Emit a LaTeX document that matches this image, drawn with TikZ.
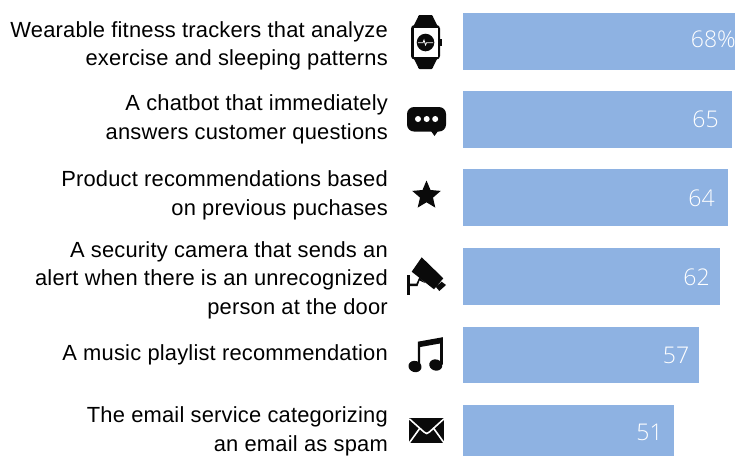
\documentclass[tikz,border=0pt]{standalone}
\usepackage{fontspec}
\setmainfont{Liberation Sans}
\newfontfamily\labelfont[LetterSpace=0.9]{Liberation Sans}
\newfontfamily\valuefont[UprightFont=* Light]{Open Sans}
\definecolor{barblue}{HTML}{8EB2E2}
\definecolor{inkblack}{HTML}{0A0A0A}
\tikzset{
  rowlabel/.style={anchor=east,align=right,inner sep=0pt,text=black,font=\labelfont\fontsize{21.9}{28.5}\selectfont},
  barbox/.style={fill=barblue,draw=none,anchor=north west,inner sep=0pt,minimum height=57pt},
  barvalue/.style={anchor=center,inner sep=0pt,text=white,font=\valuefont\fontsize{23}{23}\selectfont},
  icon/.style={fill=inkblack,draw=none}
}
\begin{document}
\begin{tikzpicture}[x=1pt,y=-1pt]
\useasboundingbox (0,0) rectangle (735,456);
% bars
\node[barbox,minimum width=272pt] (b1) at (463,13) {};
\node[barbox,minimum width=269pt] (b2) at (463,91) {};
\node[barbox,minimum width=265pt] (b3) at (463,169) {};
\node[barbox,minimum width=257pt] (b4) at (463,248) {};
\node[barbox,minimum width=236pt,minimum height=56.5pt] (b5) at (463,326.5) {};
\node[barbox,minimum width=211pt,minimum height=51pt] (b6) at (463,405) {};
% values
\node[barvalue] (v1) at (713.3,39.5) {68\%};
\node[barvalue] (v2) at (705.5,119.5) {65};
\node[barvalue] (v3) at (701.5,198) {64};
\node[barvalue] (v4) at (696.5,277) {62};
\node[barvalue] (v5) at (676,355.5) {57};
\node[barvalue] (v6) at (649.5,432) {51};
% labels
\node[rowlabel] (l1) at (388,46) {Wearable fitness trackers that analyze\\exercise and sleeping patterns};
\node[rowlabel] (l2) at (388,119.5) {A chatbot that immediately\\answers customer questions};
\node[rowlabel] (l3) at (388,195.5) {Product recommendations based\\on previous puchases};
\node[rowlabel] (l4) at (388,280) {A security camera that sends an\\alert when there is an unrecognized\\person at the door};
\node[rowlabel] (l5) at (388,354.5) {A music playlist recommendation};
\node[rowlabel] (l6) at (388,431.5) {The email service categorizing\\an email as spam};
% watch
\fill[icon] (413,27) -- (418,17) [rounded corners=1pt] -- (418.5,15) -- (432.5,15) -- (433,17) [sharp corners] -- (438,27) -- cycle;
\fill[icon] (413,57) -- (418,67) [rounded corners=1pt] -- (418.5,69) -- (432.5,69) -- (433,67) [sharp corners] -- (438,57) -- cycle;
\fill[icon,rounded corners=3.5pt] (411,25) rectangle (440,59.5);
\fill[white] (413.5,28) rectangle (437.5,56.5);
\fill[icon] (440,39) rectangle (442,46);
\fill[icon] (425.5,42.5) circle (8.8);
\draw[white,line width=0.8pt] (418,42.8) -- (423,42.8) -- (424,40) -- (425.5,45) -- (426.5,42.8) -- (433,42.8);
% chat
\fill[icon,rounded corners=7pt] (407,107) rectangle (446,131.5);
\fill[icon] (431,131) -- (438,131) -- (434.5,136) -- cycle;
\fill[white] (418,119) circle (3) (426.7,119) circle (3) (435.2,119) circle (3);
% star
\fill[icon] (426.5,180.5) -- (430.5,190) -- (440.8,190.9) -- (433,197.6) -- (435.3,207.6) -- (426.5,202.3) -- (417.7,207.6) -- (420,197.6) -- (412.2,190.9) -- (422.5,190) -- cycle;
% camera
\fill[icon] (421.7,257.3) -- (443.3,278.3) -- (434,289.3) -- (411.7,271.7) -- cycle;
\fill[icon] (435.7,286.7) -- (441.7,281.7) -- (446,285) -- (439.3,291) -- cycle;
\fill[icon] (407.3,275) rectangle (410,295);
\fill[icon] (410,283.5) -- (416.5,283.5) -- (419.5,277) -- (425,283) -- (419.5,280.5) -- (417.5,286) -- (410,286) -- cycle;
% music
\fill[icon,rotate around={-15:(415,366.5)}] (415,366.5) ellipse (6.6 and 5.6);
\fill[icon,rotate around={-15:(435.8,365)}] (435.8,365) ellipse (6.6 and 5.6);
\fill[icon] (417.8,341.7) -- (442.8,337.2) -- (442.8,364.5) -- (440,364.5) -- (440,343.5) -- (420.2,347) -- (420.2,366.5) -- (417.8,366.5) -- cycle;
% envelope
\fill[icon] (409.3,418.3) rectangle (444,443.3);
\draw[white,line width=1.6pt] (409.3,418.8) -- (424,432) -- (426.7,433.5) -- (429.4,432) -- (444,418.8);
\draw[white,line width=1.6pt] (409.3,442.8) -- (420,428);
\draw[white,line width=1.6pt] (444,442.8) -- (433.4,428);
\end{tikzpicture}
\end{document}
